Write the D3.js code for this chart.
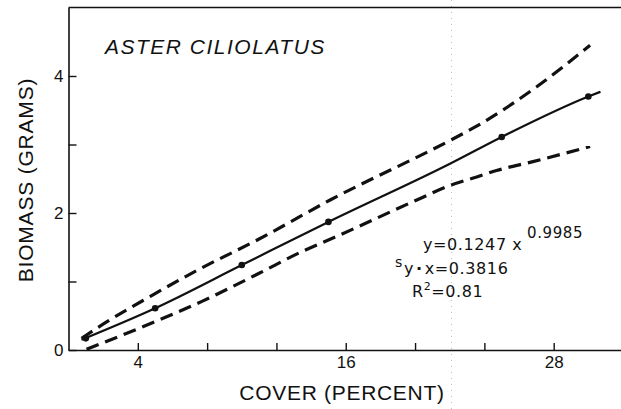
<!DOCTYPE html>
<html><head><meta charset="utf-8">
<script src="https://cdn.jsdelivr.net/npm/d3@7"></script>
<style>
body{margin:0;background:#fff;}
svg{display:block;font-family:"Liberation Sans",Arial,sans-serif;}
</style></head><body>
<svg id="c" width="621" height="409"></svg>
<script>
// Observed data points
const pointCover   = [1, 5, 10, 15, 25, 30];
const pointBiomass = [0.17, 0.61, 1.24, 1.87, 3.11, 3.70];
// Fitted curve
const fitCover   = [0.75, 5, 10, 15, 22.1, 25, 30, 30.7];
const fitBiomass = [0.15, 0.61, 1.24, 1.87, 2.73, 3.11, 3.70, 3.77];
// Upper confidence band
const upperCover   = [0.75, 2.2, 4.7, 7.4, 11, 15.1, 22.1, 23.5, 27, 30.1];
const upperBiomass = [0.17, 0.41, 0.78, 1.16, 1.62, 2.19, 3.07, 3.26, 3.84, 4.45];
// Lower confidence band
const lowerCover   = [1.04, 4.1, 7.7, 11, 13.5, 15.4, 20.1, 22.1, 23.6, 24.7, 26.8, 30.1];
const lowerBiomass = [0.01, 0.32, 0.71, 1.12, 1.44, 1.65, 2.19, 2.41, 2.53, 2.62, 2.75, 2.97];
// Ticks
const xTickValues = [4, 8, 12, 16, 20, 24, 28];
const xTickLabels = ["4", "", "", "16", "", "", "28"];
const yTickValues = [0, 1, 2, 3, 4];
const yTickLabels = ["0", "", "2", "", "4"];
const title = "ASTER CILIOLATUS";
const xTitle = "COVER (PERCENT)";
const yTitle = "BIOMASS (GRAMS)";

const W = 621, H = 409;
const svg = d3.select("#c");
const x = d3.scaleLinear().domain([0, 32]).range([68.5, 623]);
const y = d3.scaleLinear().domain([0, 5]).range([350, 7.5]);

// scan fold artifact (faint)
svg.append("line").attr("x1", x(22.1)).attr("x2", x(22.1)).attr("y1", 0).attr("y2", H)
  .attr("stroke", "#aaa").attr("stroke-width", 0.8).attr("stroke-dasharray", "1 5");

// top border
svg.append("line").attr("x1", x(0)).attr("x2", W).attr("y1", y(5)).attr("y2", y(5))
  .attr("stroke", "#111").attr("stroke-width", 1.5);

const xa = svg.append("g").attr("transform", `translate(0,${y(0)})`)
  .call(d3.axisBottom(x).tickValues(xTickValues).tickSize(-7).tickSizeOuter(0).tickPadding(6)
    .tickFormat((d, i) => xTickLabels[i]));
const ya = svg.append("g").attr("transform", `translate(${x(0)},0)`)
  .call(d3.axisLeft(y).tickValues(yTickValues).tickSize(-8).tickSizeOuter(0).tickPadding(5)
    .tickFormat((d, i) => yTickLabels[i]));
[xa, ya].forEach(g => {
  g.select(".domain").attr("stroke", "#111").attr("stroke-width", 1.6);
  g.selectAll(".tick line").attr("stroke", "#111").attr("stroke-width", 1.4);
  g.selectAll(".tick text").attr("fill", "#111").style("font-size", "17px")
    .style("font-family", "'Liberation Sans',Arial,sans-serif");
});

const line = d3.line().x(d => x(d[0])).y(d => y(d[1])).curve(d3.curveMonotoneX);
const zip = (a, b) => a.map((v, i) => [v, b[i]]);

svg.append("path").datum(zip(upperCover, upperBiomass)).attr("d", line)
  .attr("fill", "none").attr("stroke", "#111").attr("stroke-width", 3.2)
  .attr("stroke-dasharray", "13 7");
svg.append("path").datum(zip(lowerCover, lowerBiomass)).attr("d", line)
  .attr("fill", "none").attr("stroke", "#111").attr("stroke-width", 3.2)
  .attr("stroke-dasharray", "13 7");
svg.append("path").datum(zip(fitCover, fitBiomass)).attr("d", line)
  .attr("fill", "none").attr("stroke", "#111").attr("stroke-width", 2.2);

svg.selectAll("circle.pt").data(zip(pointCover, pointBiomass)).enter().append("circle")
  .attr("class", "pt").attr("cx", d => x(d[0])).attr("cy", d => y(d[1])).attr("r", 3.3)
  .attr("fill", "#111");

// title
svg.append("text").attr("x", 105).attr("y", 54).text(title)
  .style("font-size", "21px").style("font-style", "italic").style("letter-spacing", "1.5px")
  .attr("fill", "#111");

// axis titles
svg.append("text").attr("x", 342).attr("y", 400).attr("text-anchor", "middle").text(xTitle)
  .style("font-size", "21px").style("letter-spacing", "0.7px").attr("fill", "#111");
svg.append("text").attr("transform", "translate(33,180) rotate(-90)").attr("text-anchor", "middle")
  .text(yTitle).style("font-size", "21px").style("letter-spacing", "0.8px").attr("fill", "#111");

// equation block
const eq = svg.append("g").attr("fill", "#111")
  .style("font-family", "'DejaVu Sans',sans-serif").style("font-size", "16px")
  .style("letter-spacing", "0.6px");
const t1 = eq.append("text").attr("x", 423).attr("y", 250);
t1.append("tspan").text("y=0.1247 x");
t1.append("tspan").attr("x", 527).attr("y", 238).style("font-size", "15px").text("0.9985");
const t2 = eq.append("text").attr("x", 395).attr("y", 267);
t2.append("tspan").style("font-size", "14px").text("s");
t2.append("tspan").attr("x", 404).attr("y", 274).text("y");
t2.append("tspan").attr("dx", 2).style("font-weight", "bold").text("·");
t2.append("tspan").attr("dx", 2).text("x=0.3816");
const t3 = eq.append("text").attr("x", 412).attr("y", 297);
t3.append("tspan").text("R");
t3.append("tspan").attr("dy", -7).style("font-size", "11px").text("2");
t3.append("tspan").attr("dy", 7).text("=0.81");
</script>
</body></html>
